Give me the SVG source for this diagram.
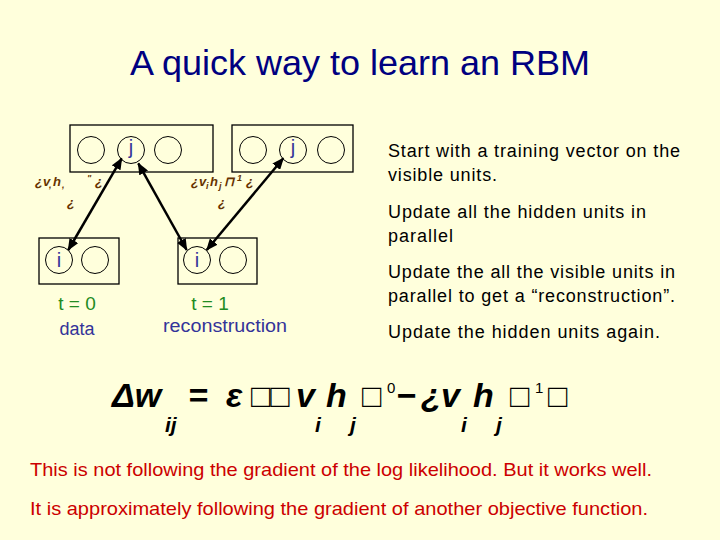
<svg xmlns="http://www.w3.org/2000/svg" width="720" height="540" viewBox="0 0 720 540">
<defs>
<style>
.box{fill:none;stroke:#000;stroke-width:1.3}
.unit{fill:none;stroke:#000;stroke-width:1}
.ulab{font-family:"Liberation Sans",Arial,sans-serif;font-size:20px;fill:#333399;text-anchor:middle}
.tlab{font-family:"Liberation Sans",Arial,sans-serif;font-size:19px;fill:#228B22;text-anchor:middle}
.blab{font-family:"Liberation Sans",Arial,sans-serif;font-size:18px;fill:#333399;text-anchor:middle}
.side{font-family:"Liberation Sans",Arial,sans-serif;font-size:18px;fill:#000}
.note{font-family:"Liberation Sans",Arial,sans-serif;font-size:19px;fill:#cc0000}
.eq{font-family:"Liberation Sans",Arial,sans-serif;font-size:34px;font-weight:bold;font-style:italic;fill:#000}
.eqs{font-family:"Liberation Sans",Arial,sans-serif;font-size:21px;font-weight:bold;font-style:italic;fill:#000}
.eqn{font-family:"Liberation Sans","DejaVu Sans",sans-serif;font-size:32px;fill:#000}
.eqsup{font-family:"Liberation Sans",Arial,sans-serif;font-size:15px;fill:#000}
.sm{font-family:"Liberation Sans",Arial,sans-serif;font-size:13px;font-weight:bold;font-style:italic;fill:#663300}
.smsub{font-family:"Liberation Sans",Arial,sans-serif;font-size:9px;font-weight:bold;font-style:italic;fill:#663300}
.conn{stroke:#000;stroke-width:2.5;fill:none;marker-start:url(#ah);marker-end:url(#ah)}
</style>
<marker id="ah" markerUnits="userSpaceOnUse" markerWidth="12" markerHeight="10" refX="11" refY="5" orient="auto-start-reverse">
<path d="M0,0 L12,5 L0,10 z" fill="#000"/>
</marker>
</defs>
<rect width="720" height="540" fill="#FFFFDC"/>
<text x="360" y="75" text-anchor="middle" font-family="Liberation Sans,Arial,sans-serif" font-size="35" fill="#000080" textLength="460" lengthAdjust="spacingAndGlyphs">A quick way to learn an RBM</text>

<g id="hidden-t0">
<rect class="box" x="70" y="125" width="143" height="47"/>
<circle class="unit" cx="91" cy="150" r="13.5"/>
<circle class="unit" cx="131" cy="150" r="13.5"/>
<circle class="unit" cx="168" cy="150" r="13.5"/>
<text class="ulab" x="131" y="154">j</text>
</g>
<g id="hidden-t1">
<rect class="box" x="232" y="125" width="121" height="47"/>
<circle class="unit" cx="253" cy="150" r="13.5"/>
<circle class="unit" cx="293" cy="150" r="13.5"/>
<circle class="unit" cx="331" cy="150" r="13.5"/>
<text class="ulab" x="293" y="154">j</text>
</g>
<g id="visible-t0">
<rect class="box" x="39" y="238" width="80" height="46"/>
<circle class="unit" cx="59" cy="260" r="13.5"/>
<circle class="unit" cx="95" cy="260" r="13.5"/>
<text class="ulab" x="59" y="267">i</text>
<text class="tlab" x="77" y="310">t = 0</text>
<text class="blab" x="77" y="335" font-size="19">data</text>
</g>
<g id="visible-t1">
<rect class="box" x="178" y="238" width="79" height="46"/>
<circle class="unit" cx="197" cy="260" r="13.5"/>
<circle class="unit" cx="233" cy="260" r="13.5"/>
<text class="ulab" x="197" y="267">i</text>
<text class="tlab" x="210" y="310">t = 1</text>
<text class="blab" x="225" y="332" textLength="124" lengthAdjust="spacingAndGlyphs">reconstruction</text>
</g>

<g id="connectors">
<line class="conn" x1="68.3" y1="250" x2="121.7" y2="158.3"/>
<line class="conn" x1="186.7" y1="250" x2="138.3" y2="163.3"/>
<line class="conn" x1="206.7" y1="250" x2="283.3" y2="158.3"/>
</g>

<g id="label-t0">
<text class="sm" x="35" y="186">¿v</text>
<text class="smsub" x="49" y="188">,</text>
<text class="sm" x="53" y="186">h</text>
<text class="smsub" x="62" y="188">,</text>
<text class="smsub" x="87" y="181">"</text>
<text class="sm" x="95" y="186">¿</text>
<text class="sm" x="67" y="207">¿</text>
</g>
<g id="label-t1">
<text class="sm" x="191" y="186">¿v</text>
<text class="smsub" x="206" y="189">i</text>
<text class="sm" x="210" y="186">h</text>
<text class="smsub" x="219" y="189">j</text>
<text class="sm" x="224" y="186" font-style="normal" font-weight="normal">⊓</text>
<text class="smsub" x="237" y="181" font-style="normal">1</text>
<text class="sm" x="246" y="186">¿</text>
<text class="sm" x="218" y="207">¿</text>
</g>

<g id="steps">
<text class="side" x="388" y="157" textLength="292" lengthAdjust="spacing">Start with a training vector on the</text>
<text class="side" x="388" y="181" textLength="109" lengthAdjust="spacing">visible units.</text>
<text class="side" x="388" y="218" textLength="258" lengthAdjust="spacing">Update all the hidden units in</text>
<text class="side" x="388" y="242" textLength="65" lengthAdjust="spacing">parallel</text>
<text class="side" x="388" y="278" textLength="287" lengthAdjust="spacing">Update the all the visible units in</text>
<text class="side" x="388" y="302" textLength="287" lengthAdjust="spacing">parallel to get a “reconstruction”.</text>
<text class="side" x="388" y="338" textLength="272" lengthAdjust="spacing">Update the hidden units again.</text>
</g>

<g id="equation">
<text class="eq" x="112" y="407">Δw</text>
<text class="eqs" x="165" y="432">ij</text>
<text class="eq" x="188" y="407" font-style="normal">=</text>
<text class="eq" x="226" y="407">ε</text>
<text class="eqn" x="251" y="407">□□</text>
<text class="eq" x="296" y="407">v</text>
<text class="eqs" x="315" y="432">i</text>
<text class="eq" x="326" y="407">h</text>
<text class="eqs" x="350" y="432">j</text>
<text class="eqn" x="362" y="407">□</text>
<text class="eqsup" x="387" y="393">0</text>
<text class="eq" x="396" y="407" font-style="normal">−</text>
<text class="eq" x="421" y="407" fill="#8B1A1A">¿</text>
<text class="eq" x="441" y="407">v</text>
<text class="eqs" x="461" y="432">i</text>
<text class="eq" x="473" y="407">h</text>
<text class="eqs" x="496" y="432">j</text>
<text class="eqn" x="510" y="407">□</text>
<text class="eqsup" x="535" y="393">1</text>
<text class="eqn" x="548" y="407">□</text>
</g>

<g id="notes">
<text class="note" x="30" y="476" textLength="622" lengthAdjust="spacingAndGlyphs">This is not following the gradient of the log likelihood. But it works well.</text>
<text class="note" x="30" y="515" textLength="618" lengthAdjust="spacingAndGlyphs">It is approximately following the gradient of another objective function.</text>
</g>
</svg>
